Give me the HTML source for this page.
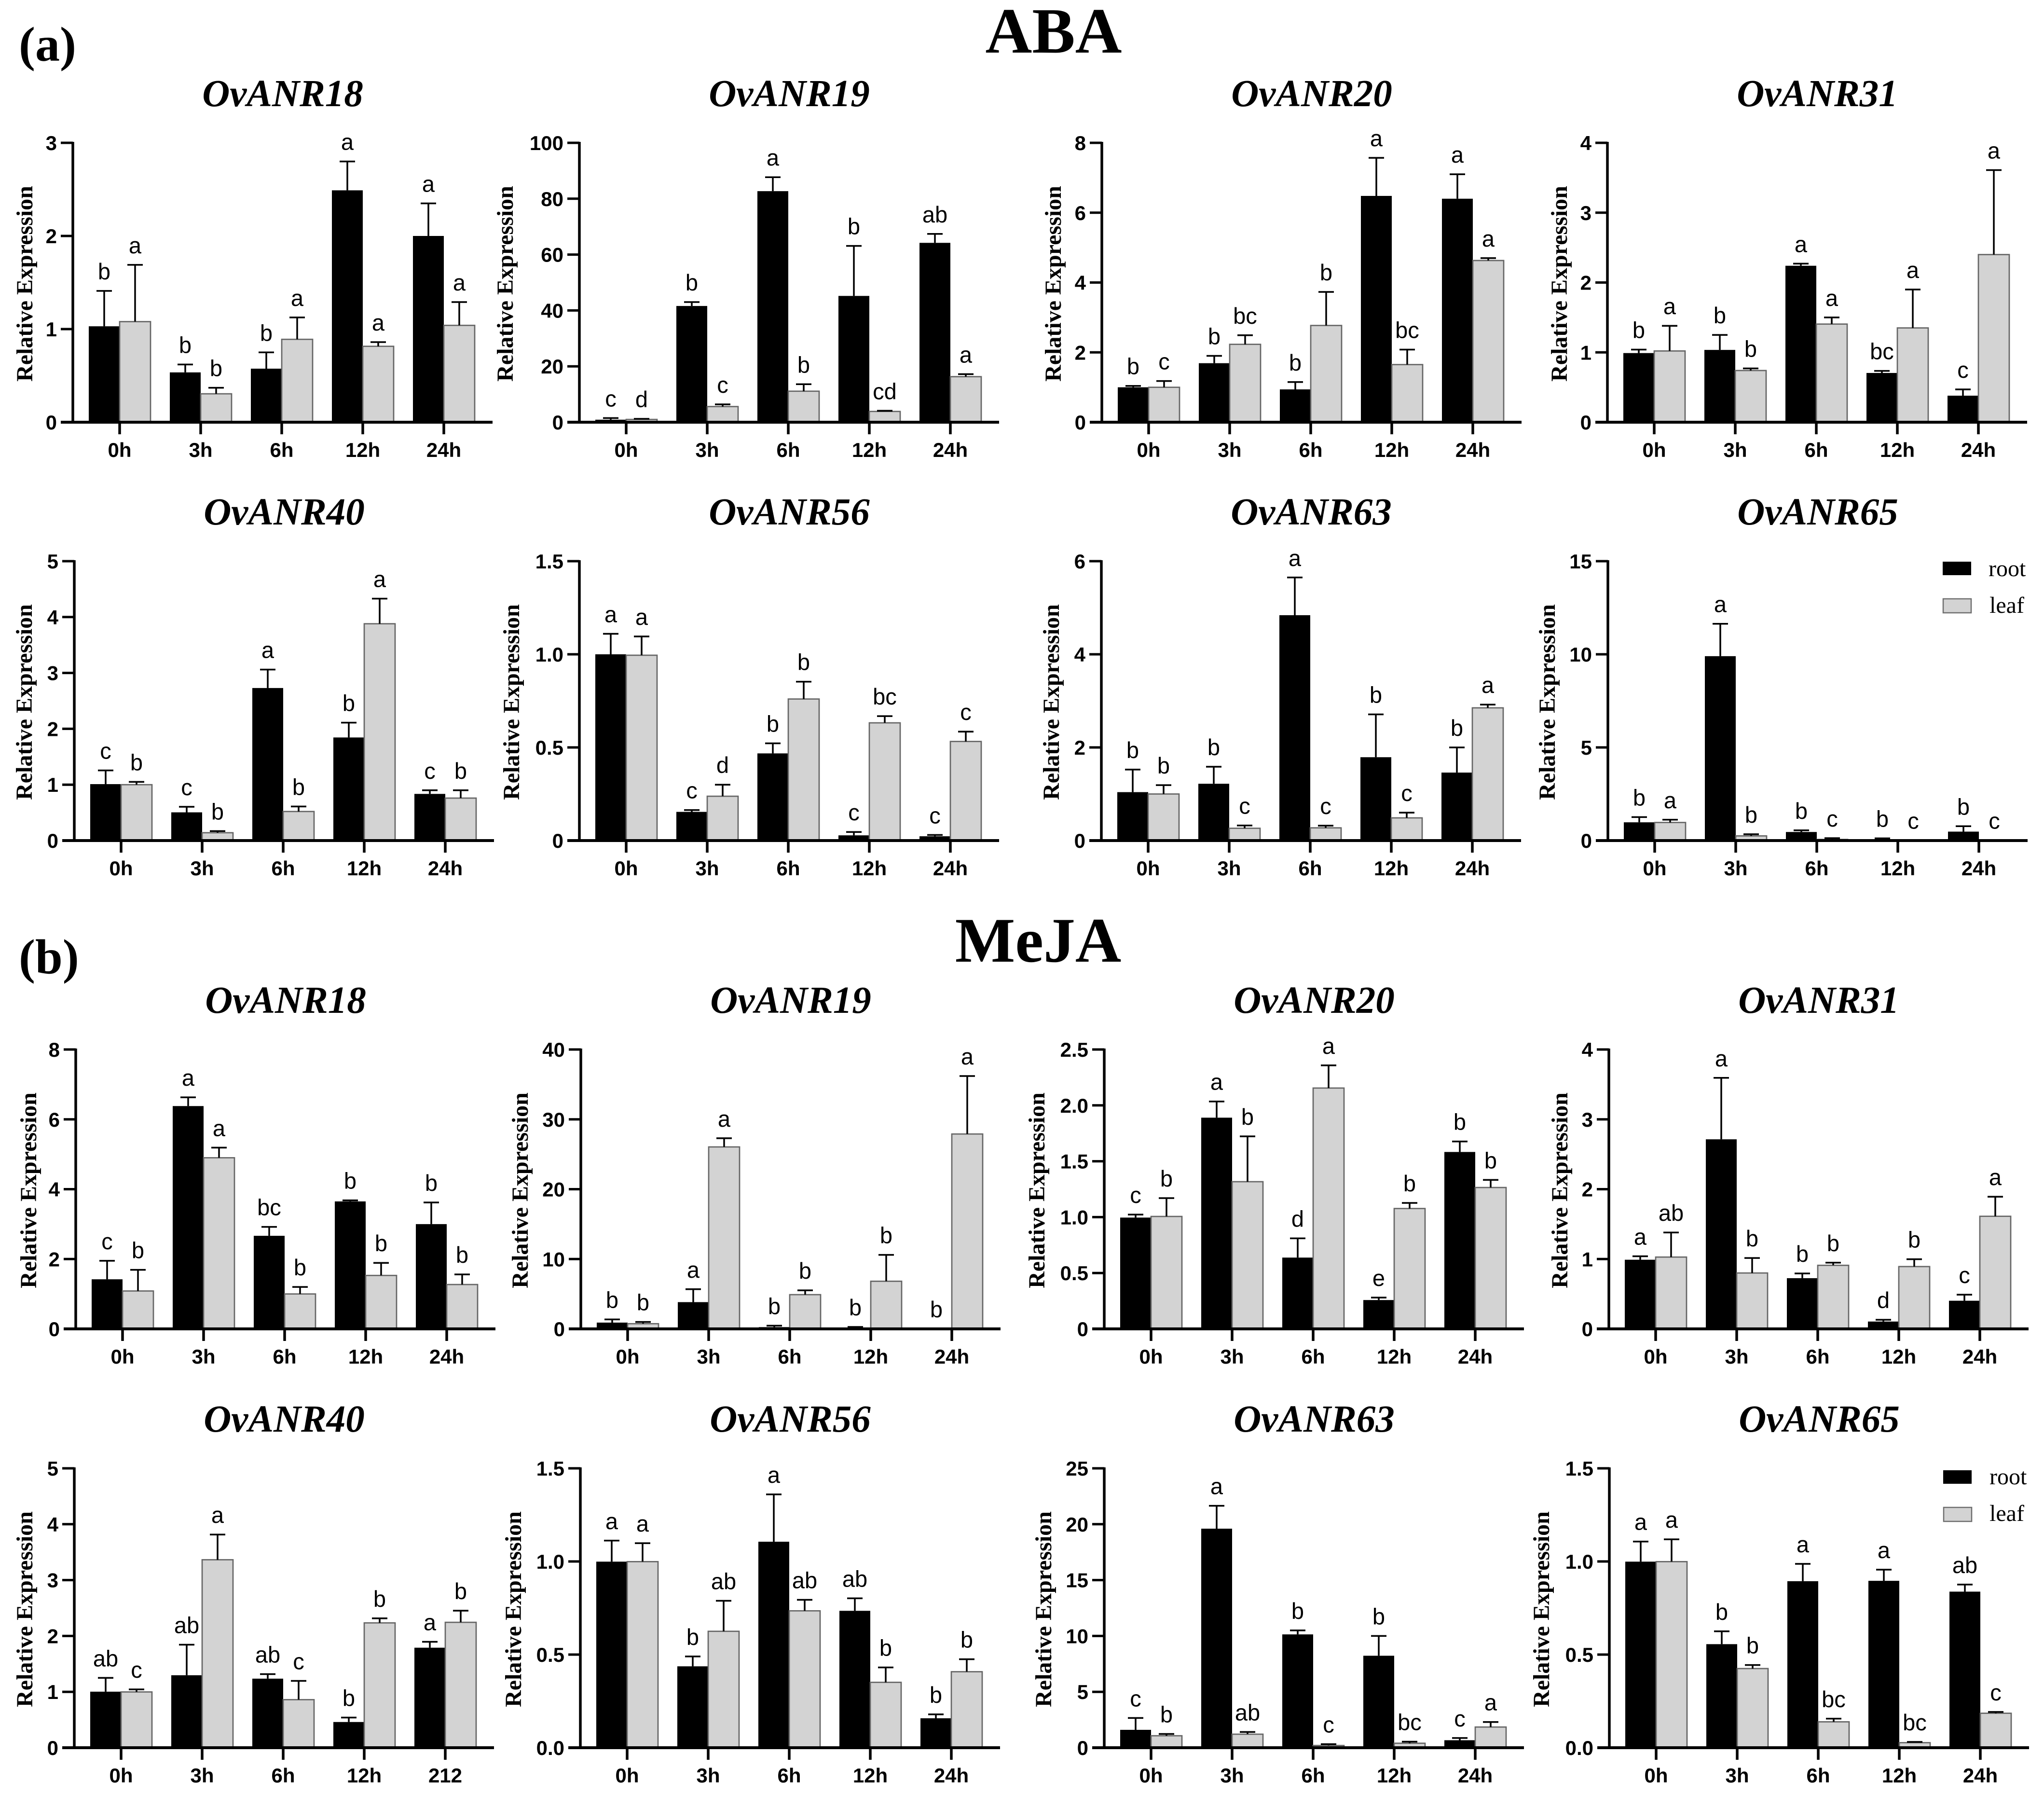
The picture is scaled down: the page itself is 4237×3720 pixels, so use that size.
<!DOCTYPE html>
<html lang="en">
<head>
<meta charset="utf-8">
<title>OvANR relative expression under ABA and MeJA</title>
<style>
html,body{margin:0;padding:0;background:#fff;}
svg{display:block;}
.head{font-family:"Liberation Serif",serif;font-weight:bold;fill:#000;}
.gene{font-family:"Liberation Serif",serif;font-weight:bold;font-style:italic;font-size:79px;fill:#000;text-anchor:middle;}
.ytitle{font-family:"Liberation Serif",serif;font-weight:bold;font-size:48px;fill:#000;text-anchor:middle;}
.tick{font-family:"Liberation Sans",sans-serif;font-weight:bold;font-size:42px;fill:#000;}
.sig{font-family:"Liberation Sans",sans-serif;font-size:47px;fill:#000;text-anchor:middle;}
.leg{font-family:"Liberation Serif",serif;font-size:48px;fill:#000;}
</style>
</head>
<body>
<svg id="figure" xmlns="http://www.w3.org/2000/svg" width="4237" height="3720" viewBox="0 0 4237 3720">
<rect x="0" y="0" width="4237" height="3720" fill="#fff"/>
<text class="head" x="39" y="126" font-size="102">(a)</text>
<text class="head" x="2184" y="109" font-size="134" text-anchor="middle">ABA</text>
<text class="head" x="39" y="2017" font-size="102">(b)</text>
<text class="head" x="2152" y="1993" font-size="132" text-anchor="middle">MeJA</text>
<g>
<rect x="4027" y="1164" width="59" height="28" fill="#000"/>
<text class="leg" x="4122" y="1194">root</text>
<rect x="4028" y="1241" width="58" height="29" fill="#d3d3d3" stroke="#6e6e6e" stroke-width="2.5"/>
<text class="leg" x="4124" y="1270">leaf</text>
</g>
<g>
<rect x="4028" y="3047" width="59" height="28" fill="#000"/>
<text class="leg" x="4124" y="3076">root</text>
<rect x="4029" y="3124" width="58" height="29" fill="#d3d3d3" stroke="#6e6e6e" stroke-width="2.5"/>
<text class="leg" x="4124" y="3152">leaf</text>
</g>
</svg>
<script>
const hours = ['0h','3h','6h','12h','24h'];
const hours212 = ['0h','3h','6h','12h','212'];
const yTitleText = 'Relative Expression';

/* ABA */
const a18Ticks = ['0','1','2','3'];
const a18Root = [1.03,0.535,0.575,2.49,2.0];
const a18RootTop = [1.41,0.62,0.75,2.80,2.35];
const a18Leaf = [1.08,0.305,0.89,0.815,1.04];
const a18LeafTop = [1.69,0.37,1.125,0.86,1.29];
const a18RootSig = ['b','b','b','a','a'];
const a18LeafSig = ['a','b','a','a','a'];

const a19Ticks = ['0','20','40','60','80','100'];
const a19Root = [0.9,41.6,82.7,45.2,64.2];
const a19RootTop = [1.5,43,87.7,63.1,67.4];
const a19Leaf = [1.0,5.6,11.1,3.85,16.3];
const a19LeafTop = [1.2,6.4,13.6,4.1,17.2];
const a19RootSig = ['c','b','a','b','ab'];
const a19LeafSig = ['d','c','b','cd','a'];

const a20Ticks = ['0','2','4','6','8'];
const a20Root = [1.0,1.69,0.94,6.48,6.4];
const a20RootTop = [1.04,1.9,1.15,7.57,7.1];
const a20Leaf = [1.0,2.23,2.77,1.65,4.63];
const a20LeafTop = [1.18,2.49,3.73,2.08,4.7];
const a20RootSig = ['b','b','b','a','a'];
const a20LeafSig = ['c','bc','b','bc','a'];

const a31Ticks = ['0','1','2','3','4'];
const a31Root = [0.99,1.035,2.24,0.705,0.38];
const a31RootTop = [1.04,1.25,2.27,0.735,0.47];
const a31Leaf = [1.02,0.74,1.405,1.35,2.4];
const a31LeafTop = [1.38,0.77,1.5,1.9,3.61];
const a31RootSig = ['b','b','a','bc','c'];
const a31LeafSig = ['a','b','a','a','a'];

const a40Ticks = ['0','1','2','3','4','5'];
const a40Root = [1.01,0.505,2.73,1.845,0.835];
const a40RootTop = [1.255,0.605,3.06,2.11,0.9];
const a40Leaf = [1.0,0.14,0.52,3.88,0.76];
const a40LeafTop = [1.05,0.17,0.61,4.33,0.9];
const a40RootSig = ['c','c','a','b','c'];
const a40LeafSig = ['b','b','b','a','b'];

const a56Ticks = ['0','0.5','1.0','1.5'];
const a56Root = [1.0,0.154,0.468,0.028,0.023];
const a56RootTop = [1.11,0.164,0.522,0.046,0.03];
const a56Leaf = [0.995,0.238,0.76,0.632,0.532];
const a56LeafTop = [1.096,0.30,0.853,0.668,0.585];
const a56RootSig = ['a','c','b','c','c'];
const a56LeafSig = ['a','d','b','bc','c'];

const a63Ticks = ['0','2','4','6'];
const a63Root = [1.04,1.22,4.84,1.79,1.46];
const a63RootTop = [1.525,1.585,5.65,2.71,2.0];
const a63Leaf = [1.0,0.264,0.273,0.487,2.85];
const a63LeafTop = [1.19,0.324,0.32,0.6,2.92];
const a63RootSig = ['b','b','a','b','b'];
const a63LeafSig = ['b','c','c','c','a'];

const a65Ticks = ['0','5','10','15'];
const a65Root = [0.98,9.9,0.46,0.05,0.48];
const a65RootTop = [1.26,11.64,0.55,0.12,0.77];
const a65Leaf = [0.97,0.25,0.06,0.01,0.01];
const a65LeafTop = [1.12,0.34,0.13,0.01,0.01];
const a65RootSig = ['b','a','b','b','b'];
const a65LeafSig = ['a','b','c','c','c'];

/* MeJA */
const b18Ticks = ['0','2','4','6','8'];
const b18Root = [1.42,6.38,2.665,3.65,3.0];
const b18RootTop = [1.95,6.63,2.92,3.68,3.62];
const b18Leaf = [1.085,4.9,1.0,1.53,1.27];
const b18LeafTop = [1.69,5.19,1.2,1.89,1.56];
const b18RootSig = ['c','a','bc','b','b'];
const b18LeafSig = ['b','a','b','b','b'];

const b19Ticks = ['0','10','20','30','40'];
const b19Root = [0.9,3.83,0.25,0.1,0];
const b19RootTop = [1.36,5.68,0.46,0.28,0];
const b19Leaf = [0.74,26.05,4.9,6.82,27.9];
const b19LeafTop = [0.99,27.3,5.52,10.6,36.2];
const b19RootSig = ['b','a','b','b','b'];
const b19LeafSig = ['b','a','b','b','a'];

const b20Ticks = ['0','0.5','1.0','1.5','2.0','2.5'];
const b20Root = [0.996,1.89,0.638,0.258,1.583];
const b20RootTop = [1.023,2.035,0.81,0.28,1.677];
const b20Leaf = [1.006,1.317,2.155,1.077,1.265];
const b20LeafTop = [1.17,1.723,2.358,1.127,1.333];
const b20RootSig = ['c','a','d','e','b'];
const b20LeafSig = ['b','b','a','b','b'];

const b31Ticks = ['0','1','2','3','4'];
const b31Root = [0.99,2.714,0.726,0.105,0.403];
const b31RootTop = [1.04,3.594,0.794,0.13,0.49];
const b31Leaf = [1.028,0.8,0.91,0.892,1.612];
const b31LeafTop = [1.38,1.015,0.948,0.997,1.892];
const b31RootSig = ['a','a','b','d','c'];
const b31LeafSig = ['ab','b','b','b','a'];

const b40Ticks = ['0','1','2','3','4','5'];
const b40Root = [1.003,1.297,1.236,0.46,1.79];
const b40RootTop = [1.25,1.844,1.317,0.54,1.895];
const b40Leaf = [0.998,3.364,0.86,2.234,2.244];
const b40LeafTop = [1.044,3.815,1.196,2.315,2.452];
const b40RootSig = ['ab','ab','ab','b','a'];
const b40LeafSig = ['c','a','c','b','b'];

const b56Ticks = ['0.0','0.5','1.0','1.5'];
const b56Root = [0.999,0.437,1.106,0.735,0.158];
const b56RootTop = [1.112,0.49,1.36,0.802,0.179];
const b56Leaf = [0.999,0.625,0.735,0.351,0.408];
const b56LeafTop = [1.098,0.789,0.794,0.431,0.475];
const b56RootSig = ['a','b','a','ab','b'];
const b56LeafSig = ['a','ab','ab','b','b'];

const b63Ticks = ['0','5','10','15','20','25'];
const b63Root = [1.6,19.6,10.14,8.23,0.67];
const b63RootTop = [2.66,21.65,10.5,10.0,0.87];
const b63Leaf = [1.07,1.21,0.2,0.4,1.85];
const b63LeafTop = [1.23,1.41,0.32,0.54,2.3];
const b63RootSig = ['c','a','b','b','c'];
const b63LeafSig = ['b','ab','c','bc','a'];

const b65Ticks = ['0.0','0.5','1.0','1.5'];
const b65Root = [0.999,0.556,0.894,0.896,0.838];
const b65RootTop = [1.107,0.625,0.987,0.956,0.876];
const b65Leaf = [0.999,0.425,0.139,0.027,0.185];
const b65LeafTop = [1.119,0.444,0.156,0.031,0.192];
const b65RootSig = ['a','b','a','a','ab'];
const b65LeafSig = ['a','b','bc','bc','c'];

const panels = [
 ['a-ovanr18','OvANR18',0,0,hours,a18Ticks,a18Root,a18RootTop,a18Leaf,a18LeafTop,a18RootSig,a18LeafSig],
 ['a-ovanr19','OvANR19',0,1,hours,a19Ticks,a19Root,a19RootTop,a19Leaf,a19LeafTop,a19RootSig,a19LeafSig],
 ['a-ovanr20','OvANR20',0,2,hours,a20Ticks,a20Root,a20RootTop,a20Leaf,a20LeafTop,a20RootSig,a20LeafSig],
 ['a-ovanr31','OvANR31',0,3,hours,a31Ticks,a31Root,a31RootTop,a31Leaf,a31LeafTop,a31RootSig,a31LeafSig],
 ['a-ovanr40','OvANR40',1,0,hours,a40Ticks,a40Root,a40RootTop,a40Leaf,a40LeafTop,a40RootSig,a40LeafSig],
 ['a-ovanr56','OvANR56',1,1,hours,a56Ticks,a56Root,a56RootTop,a56Leaf,a56LeafTop,a56RootSig,a56LeafSig],
 ['a-ovanr63','OvANR63',1,2,hours,a63Ticks,a63Root,a63RootTop,a63Leaf,a63LeafTop,a63RootSig,a63LeafSig],
 ['a-ovanr65','OvANR65',1,3,hours,a65Ticks,a65Root,a65RootTop,a65Leaf,a65LeafTop,a65RootSig,a65LeafSig],
 ['b-ovanr18','OvANR18',2,0,hours,b18Ticks,b18Root,b18RootTop,b18Leaf,b18LeafTop,b18RootSig,b18LeafSig],
 ['b-ovanr19','OvANR19',2,1,hours,b19Ticks,b19Root,b19RootTop,b19Leaf,b19LeafTop,b19RootSig,b19LeafSig],
 ['b-ovanr20','OvANR20',2,2,hours,b20Ticks,b20Root,b20RootTop,b20Leaf,b20LeafTop,b20RootSig,b20LeafSig],
 ['b-ovanr31','OvANR31',2,3,hours,b31Ticks,b31Root,b31RootTop,b31Leaf,b31LeafTop,b31RootSig,b31LeafSig],
 ['b-ovanr40','OvANR40',3,0,hours212,b40Ticks,b40Root,b40RootTop,b40Leaf,b40LeafTop,b40RootSig,b40LeafSig],
 ['b-ovanr56','OvANR56',3,1,hours,b56Ticks,b56Root,b56RootTop,b56Leaf,b56LeafTop,b56RootSig,b56LeafSig],
 ['b-ovanr63','OvANR63',3,2,hours,b63Ticks,b63Root,b63RootTop,b63Leaf,b63LeafTop,b63RootSig,b63LeafSig],
 ['b-ovanr65','OvANR65',3,3,hours,b65Ticks,b65Root,b65RootTop,b65Leaf,b65LeafTop,b65RootSig,b65LeafSig]
];

/* layout frame (not data) */
const rowTop = [296,1163,2175,3043];
const rowBase = [875,1742,2754,3622];
const colStart = [[248,1298,2381,3429],[251,1298,2380,3430],[254,1301,2386,3432],[251,1300,2386,3433]];
const yTitleGap = [[181,235,182,181],[185,222,185,207],[179,207,221,183],[184,220,207,222]];
const STEP = 168, BAR = 64;
const NS = 'http://www.w3.org/2000/svg';
const svg = document.getElementById('figure');

function make(tag, attrs, parent, text){
  const n = document.createElementNS(NS, tag);
  for (const k in attrs) n.setAttribute(k, attrs[k]);
  if (text !== undefined) n.textContent = text;
  parent.appendChild(n);
  return n;
}

function seriesMarks(g, kind, cats, vals, tops, sigs, xCat, yS, base){
  vals.forEach(function(v, i){
    const cx = xCat(i) + (kind === 'root' ? -BAR/2 : BAR/2);
    const y = yS(v);
    const bar = make('rect', {x: cx-BAR/2, y: y, width: BAR, height: Math.max(base-y,0),
      fill: kind === 'root' ? '#000' : '#d3d3d3',
      stroke: kind === 'root' ? 'none' : '#666',
      'stroke-width': kind === 'root' ? 0 : 2.7}, g);
    
    
    const yt = yS(tops[i]);
    if (tops[i] > v){
      const err = make('path', {d: 'M'+cx+' '+y+'V'+yt+'M'+(cx-16)+' '+yt+'H'+(cx+16),
        stroke: '#000', 'stroke-width': 3.5, fill: 'none'}, g);
      
      
    }
    const sig = make('text', {class: 'sig', x: cx, y: yt-24}, g, sigs[i]);
    
    
  });
}

panels.forEach(function(p){
  const id = p[0], title = p[1], r = p[2], c = p[3], cats = p[4], ticks = p[5];
  const top = rowTop[r], base = rowBase[r], t0 = colStart[r][c];
  const axisX = t0 - 97;
  const yMax = Number(ticks[ticks.length-1]);
  const yS = function(v){ return base - v / yMax * (base - top); };
  const xCat = function(i){ return t0 + i * STEP; };

  const g = make('g', {}, svg);
  
  

  const tt = make('text', {class: 'gene', x: t0 + 2*STEP + 2, y: top - 76}, g, title);
  
  

  const yl = make('text', {class: 'ytitle', transform: 'translate(' + (t0-yTitleGap[r][c]) + ' ' + (top+292) + ') rotate(-90)'}, g, yTitleText);
  
  

  seriesMarks(g, 'root', cats, p[6], p[7], p[10], xCat, yS, base);
  seriesMarks(g, 'leaf', cats, p[8], p[9], p[11], xCat, yS, base);

  const ya = make('line', {x1: axisX, x2: axisX, y1: top-2, y2: base+2, stroke: '#000', 'stroke-width': 5.5}, g);
  
  

  const xa = make('line', {x1: axisX-25, x2: xCat(4)+101, y1: base, y2: base, stroke: '#000', 'stroke-width': 6}, g);
  
  

  ticks.forEach(function(t){
    const y = yS(Number(t));
    const tl = make('line', {x1: axisX-25, x2: axisX, y1: y, y2: y, stroke: '#000', 'stroke-width': 5}, g);
    
    
    const tx = make('text', {class: 'tick', x: axisX-33, y: y+15, 'text-anchor': 'end'}, g, t);
    
    
  });

  cats.forEach(function(cat, i){
    const x = xCat(i);
    const tl = make('line', {x1: x, x2: x, y1: base, y2: base+25, stroke: '#000', 'stroke-width': 5.5}, g);
    
    
    const tx = make('text', {class: 'tick', x: x, y: base+72, 'text-anchor': 'middle'}, g, cat);
    
    
  });
});
</script>
</body>
</html>
